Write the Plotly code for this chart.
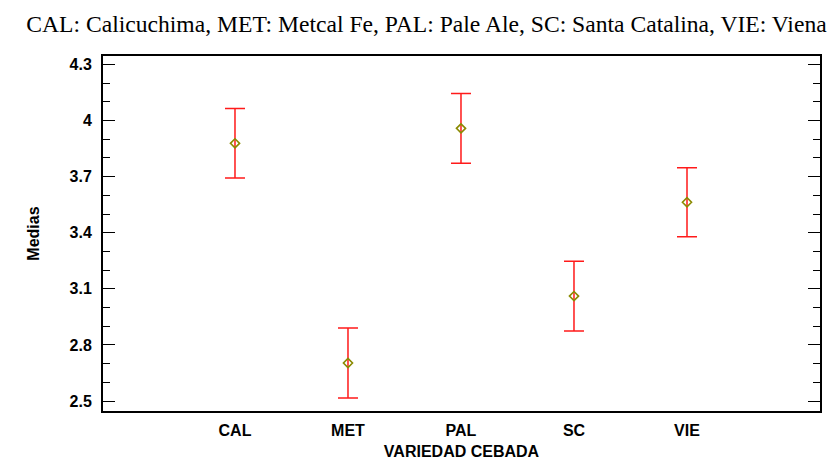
import plotly.graph_objects as go

categories = ["CAL", "MET", "PAL", "SC", "VIE"]
means = [3.878, 2.703, 3.958, 3.061, 3.563]
half_width = [0.186, 0.187, 0.186, 0.187, 0.185]
positions = [0, 1, 2, 3, 4]
y_tickvals = [2.5, 2.8, 3.1, 3.4, 3.7, 4.0, 4.3]
y_ticktext = ["2.5", "2.8", "3.1", "3.4", "3.7", "4", "4.3"]

fig = go.Figure()
fig.add_trace(go.Scatter(
    x=positions, y=means, mode="markers",
    marker=dict(symbol="diamond-open", color="#8a8a00", size=7, line=dict(width=1.6, color="#8a8a00")),
    error_y=dict(type="data", array=half_width, visible=True, color="#ff1a1a", thickness=1.5, width=10),
    showlegend=False,
))

fig.update_layout(
    width=837, height=463,
    margin=dict(l=95, r=25, t=48, b=60, autoexpand=False),
    paper_bgcolor="white", plot_bgcolor="white",
    title=dict(text="CAL: Calicuchima, MET: Metcal Fe, PAL: Pale Ale, SC: Santa Catalina, VIE: Viena",
               x=0.5, xanchor="center", y=0.965, yanchor="middle",
               font=dict(family="Liberation Serif", size=23.6, color="black")),
    font=dict(family="Liberation Sans", color="black"),
)
fig.update_xaxes(
    range=[-1.168, 5.177], tickmode="array", tickvals=positions, ticktext=categories,
    showgrid=False, zeroline=False, showline=True, linecolor="black", linewidth=2, mirror=True,
    ticks="", ticklabelstandoff=4,
    tickfont=dict(size=16, family="Liberation Sans", color="black", weight="bold"),
    title=dict(text="<b>VARIEDAD CEBADA</b>", font=dict(size=16, family="Liberation Sans"), standoff=8),
    automargin=False,
)
fig.update_yaxes(
    range=[2.4465, 4.345], tickmode="array", tickvals=y_tickvals, ticktext=y_ticktext,
    showgrid=False, zeroline=False, showline=True, linecolor="black", linewidth=2, mirror="allticks",
    ticks="inside", ticklen=12, tickwidth=1.2, tickcolor="black", ticklabelstandoff=6,
    minor=dict(dtick=0.1, tick0=2.5, ticks="inside", ticklen=7, tickwidth=1.2, tickcolor="black"),
    tickfont=dict(size=16, family="Liberation Sans", color="black", weight="bold"),
    title=dict(text="<b>Medias</b>", font=dict(size=16, family="Liberation Sans"), standoff=26),
    automargin=False,
)

fig.write_html("out.html")
